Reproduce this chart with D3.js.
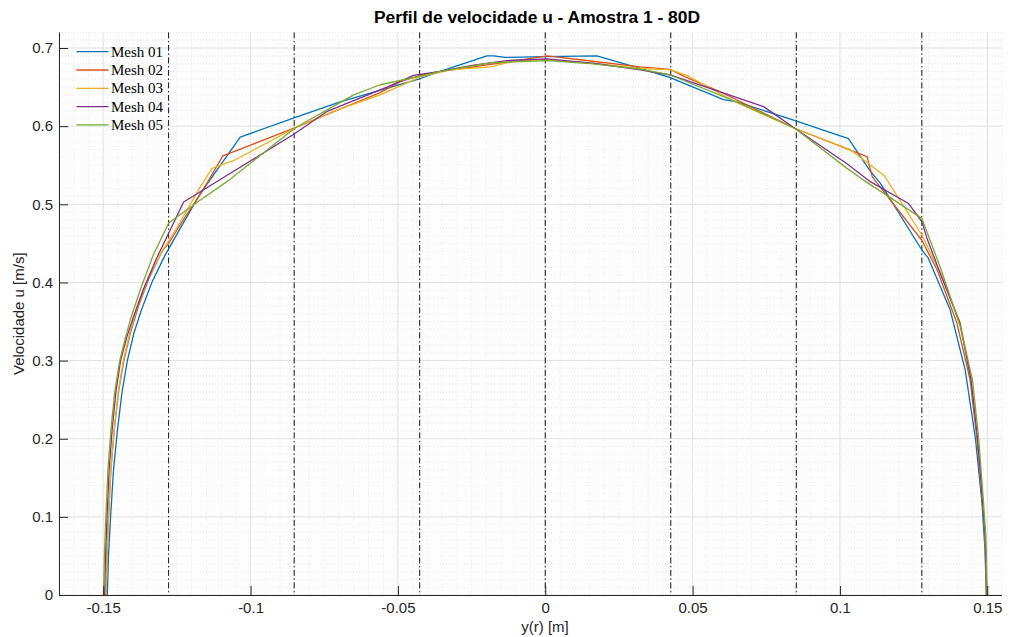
<!DOCTYPE html>
<html><head><meta charset="utf-8">
<script src="https://cdn.jsdelivr.net/npm/d3@7"></script>
<style>body{margin:0;background:#fff}svg{display:block}</style>
</head><body>
<svg id="c" width="1009" height="637"></svg>
<script>
const seriesNames = ["Mesh 01","Mesh 02","Mesh 03","Mesh 04","Mesh 05"];
const seriesColors = ["#0072BD","#D95319","#EDB120","#7E2F8E","#77AC30"];

const mesh01X = [-0.1486,-0.1482,-0.1475,-0.1465,-0.1452,-0.1436,-0.1418,-0.1396,-0.1370,-0.1335,-0.1290,-0.1230,-0.1170,-0.1035,-0.0850,-0.0696,-0.0424,-0.0356,-0.0198,-0.0176,-0.0136,0,0.0175,0.0322,0.0424,0.0605,0.0650,0.0848,0.1029,0.1100,0.1137,0.1278,0.1300,0.1374,0.1425,0.1460,0.1482,0.1492,0.1497];
const mesh01Y = [0,0.05,0.10,0.16,0.21,0.26,0.30,0.335,0.365,0.40,0.435,0.475,0.514,0.586,0.611,0.631,0.661,0.670,0.690,0.690,0.688,0.689,0.690,0.674,0.662,0.634,0.631,0.607,0.584,0.544,0.527,0.4415,0.431,0.365,0.288,0.20,0.118,0.06,0];

const mesh02X = [-0.1490,-0.1487,-0.1482,-0.1474,-0.1463,-0.1448,-0.1430,-0.1408,-0.1380,-0.1345,-0.1300,-0.1278,-0.1220,-0.1165,-0.1094,-0.0848,-0.0747,-0.0560,-0.0492,-0.0424,-0.0356,-0.0130,0.0006,0.0119,0.0322,0.0424,0.0475,0.0594,0.0848,0.1092,0.1110,0.1278,0.1330,0.1397,0.1442,0.1465,0.1483,0.1493,0.1497];
const mesh02Y = [0,0.05,0.10,0.16,0.21,0.26,0.30,0.335,0.37,0.405,0.44,0.450,0.485,0.516,0.562,0.598,0.614,0.643,0.657,0.665,0.670,0.682,0.690,0.685,0.676,0.6727,0.663,0.644,0.597,0.561,0.535,0.454,0.416,0.348,0.275,0.20,0.12,0.075,0];

const mesh03X = [-0.1490,-0.1487,-0.1482,-0.1474,-0.1463,-0.1449,-0.1432,-0.1410,-0.1383,-0.1348,-0.1300,-0.1250,-0.1170,-0.1131,-0.1052,-0.0848,-0.0720,-0.0560,-0.0424,-0.0322,-0.0187,-0.0096,0.0006,0.0153,0.0322,0.0424,0.0481,0.0650,0.0848,0.1035,0.1150,0.1278,0.1341,0.1409,0.1446,0.1467,0.1484,0.1493,0.1497];
const mesh03Y = [0,0.05,0.10,0.16,0.21,0.26,0.30,0.335,0.37,0.405,0.44,0.47,0.5226,0.546,0.557,0.598,0.619,0.640,0.663,0.672,0.676,0.684,0.685,0.681,0.674,0.672,0.665,0.630,0.597,0.570,0.537,0.4607,0.412,0.348,0.275,0.20,0.12,0.075,0];

const mesh04X = [-0.1495,-0.1492,-0.1487,-0.1480,-0.1470,-0.1457,-0.1441,-0.1420,-0.1397,-0.1365,-0.1320,-0.1278,-0.1227,-0.0848,-0.0740,-0.0537,-0.0447,-0.0356,-0.0243,-0.0130,0.0006,0.0175,0.0322,0.0424,0.0741,0.0848,0.1024,0.1103,0.1233,0.1278,0.1295,0.1340,0.1407,0.1445,0.1467,0.1484,0.1493,0.1498];
const mesh04Y = [0,0.05,0.10,0.16,0.21,0.26,0.30,0.33,0.356,0.39,0.43,0.463,0.503,0.591,0.619,0.650,0.665,0.670,0.678,0.684,0.686,0.680,0.672,0.6655,0.625,0.597,0.552,0.529,0.501,0.478,0.457,0.412,0.348,0.275,0.20,0.12,0.075,0];

const mesh05X = [-0.1499,-0.1496,-0.1491,-0.1484,-0.1474,-0.1461,-0.1444,-0.1424,-0.1408,-0.1375,-0.1330,-0.1278,-0.1170,-0.1080,-0.0848,-0.0650,-0.0560,-0.0424,-0.0356,-0.0187,0.0006,0.0153,0.0322,0.0424,0.0650,0.0848,0.1024,0.1080,0.1278,0.1340,0.1409,0.1450,0.1471,0.1487,0.1495,0.1500];
const mesh05Y = [0,0.05,0.10,0.16,0.21,0.26,0.30,0.33,0.352,0.39,0.435,0.476,0.5055,0.529,0.598,0.640,0.653,0.664,0.670,0.681,0.684,0.680,0.673,0.6655,0.631,0.597,0.546,0.531,0.482,0.420,0.343,0.275,0.20,0.12,0.075,0];

const sectionLines = [-0.1278,-0.0852,-0.0426,0,0.0426,0.0852,0.1278];
const xTicks = [-0.15,-0.1,-0.05,0,0.05,0.1,0.15];
const xTickLabels = ["-0.15","-0.1","-0.05","0","0.05","0.1","0.15"];
const yTicks = [0,0.1,0.2,0.3,0.4,0.5,0.6,0.7];
const yTickLabels = ["0","0.1","0.2","0.3","0.4","0.5","0.6","0.7"];
const titleText = "Perfil de velocidade u - Amostra 1 - 80D";
const xLabel = "y(r) [m]";
const yLabel = "Velocidade u [m/s]";

const seriesX = [mesh01X,mesh02X,mesh03X,mesh04X,mesh05X];
const seriesY = [mesh01Y,mesh02Y,mesh03Y,mesh04Y,mesh05Y];

const L = 59, R = 1002, T = 32.4, B = 595;
const x = d3.scaleLinear().domain([-0.165, 0.155]).range([L, R]);
const y = d3.scaleLinear().domain([0, 0.72]).range([B, T]);
const svg = d3.select("#c");
const font = "'Liberation Sans', Arial, Helvetica, sans-serif";

// minor grid
const xMinor = d3.range(-165, 156, 5).map(v => v / 1000);
const yMinor = d3.range(0, 73, 1).map(v => v / 100);
const g = svg.append("g");
g.selectAll(".xm").data(xMinor).join("line")
  .attr("x1", d => x(d)).attr("x2", d => x(d)).attr("y1", T).attr("y2", B)
  .attr("stroke", "#dedede").attr("stroke-width", 0.8).attr("stroke-dasharray", "1,2");
g.selectAll(".ym").data(yMinor).join("line")
  .attr("x1", L).attr("x2", R).attr("y1", d => y(d)).attr("y2", d => y(d))
  .attr("stroke", "#dedede").attr("stroke-width", 0.8).attr("stroke-dasharray", "1,2");
// major grid
g.selectAll(".xM").data(xTicks).join("line")
  .attr("x1", d => x(d)).attr("x2", d => x(d)).attr("y1", T).attr("y2", B)
  .attr("stroke", "#e3e3e3").attr("stroke-width", 1);
g.selectAll(".yM").data(yTicks).join("line")
  .attr("x1", L).attr("x2", R).attr("y1", d => y(d)).attr("y2", d => y(d))
  .attr("stroke", "#e3e3e3").attr("stroke-width", 1);

// section lines
svg.append("g").selectAll("line").data(sectionLines).join("line")
  .attr("x1", d => x(d)).attr("x2", d => x(d)).attr("y1", T).attr("y2", B)
  .attr("stroke", "#111").attr("stroke-width", 1).attr("stroke-dasharray", "6,2.5,1.5,2.5");

// curves
const line = d3.line().x(d => x(d[0])).y(d => y(d[1]));
seriesNames.forEach((n, i) => {
  const pts = seriesX[i].map((v, j) => [v, seriesY[i][j]]);
  svg.append("path").datum(pts).attr("d", line)
    .attr("fill", "none").attr("stroke", seriesColors[i]).attr("stroke-width", 1.3)
    .attr("stroke-linejoin", "round");
});

// axes
const xAxis = d3.axisBottom(x).tickValues(xTicks).tickFormat((d, i) => xTickLabels[i]).tickSizeInner(-9).tickSizeOuter(0).tickPadding(7);
const yAxis = d3.axisLeft(y).tickValues(yTicks).tickFormat((d, i) => yTickLabels[i]).tickSizeInner(-9).tickSizeOuter(0).tickPadding(6);
const gx = svg.append("g").attr("transform", `translate(0,${B})`).call(xAxis);
const gy = svg.append("g").attr("transform", `translate(${L},0)`).call(yAxis);
[gx, gy].forEach(a => {
  a.select(".domain").attr("stroke", "#262626").attr("stroke-width", 1);
  a.selectAll(".tick line").attr("stroke", "#262626");
  a.selectAll(".tick text").attr("fill", "#262626").attr("font-family", font).attr("font-size", 15);
});
gx.select(".domain").attr("d", `M${L},0.5H${R}`);
gy.select(".domain").attr("d", `M0.5,${B}V${T}`);

// labels
svg.append("text").attr("x", 537).attr("y", 23).attr("text-anchor", "middle")
  .attr("font-family", font).attr("font-weight", "bold").attr("font-size", 16)
  .attr("textLength", 326).attr("lengthAdjust", "spacingAndGlyphs")
  .attr("fill", "#000").text(titleText);
svg.append("text").attr("x", 545).attr("y", 632).attr("text-anchor", "middle")
  .attr("font-family", font).attr("font-size", 15).attr("fill", "#262626").text(xLabel);
svg.append("text").attr("transform", `translate(24,${(T + B) / 2}) rotate(-90)`).attr("text-anchor", "middle")
  .attr("font-family", font).attr("font-size", 15).attr("fill", "#262626").text(yLabel);

// legend
const lg = svg.append("g");
seriesNames.forEach((n, i) => {
  const yy = 51.7 + i * 18.3;
  lg.append("line").attr("x1", 76.5).attr("x2", 108.5).attr("y1", yy).attr("y2", yy)
    .attr("stroke", seriesColors[i]).attr("stroke-width", 1.3);
  lg.append("text").attr("x", 111).attr("y", yy + 5).attr("font-family", "'Liberation Serif', 'DejaVu Serif', serif")
    .attr("font-size", 15).attr("fill", "#000").text(n);
});
</script>
</body></html>
